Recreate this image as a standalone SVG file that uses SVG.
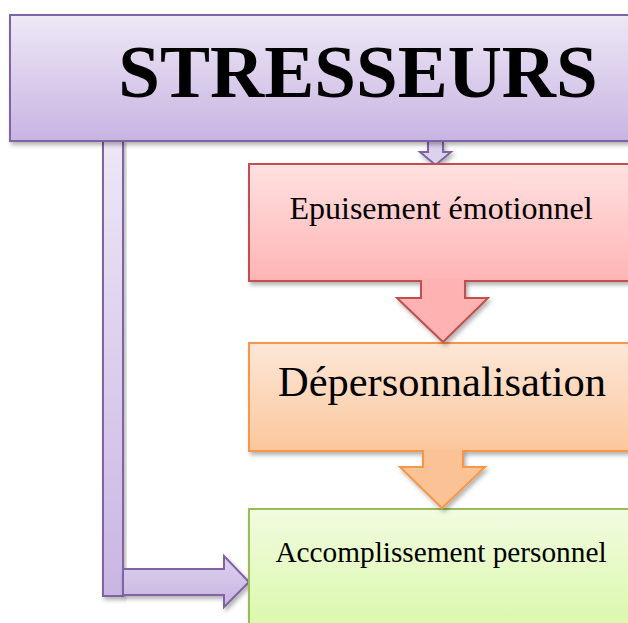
<svg xmlns="http://www.w3.org/2000/svg" width="628" height="623" viewBox="0 0 628 623">
<defs>
<linearGradient id="gPurple" x1="0" y1="0" x2="0" y2="1"><stop offset="0" stop-color="#eee8f6"/><stop offset="1" stop-color="#c8b4e2"/></linearGradient>
<linearGradient id="gPurpleBar" x1="0" y1="0" x2="0" y2="1"><stop offset="0" stop-color="#ede7f6"/><stop offset="1" stop-color="#c9b5e3"/></linearGradient>
<linearGradient id="gRed" x1="0" y1="0" x2="0" y2="1"><stop offset="0" stop-color="#ffe1e1"/><stop offset="1" stop-color="#ffb4b4"/></linearGradient>
<linearGradient id="gOrange" x1="0" y1="0" x2="0" y2="1"><stop offset="0" stop-color="#fde7d8"/><stop offset="1" stop-color="#fbc79c"/></linearGradient>
<linearGradient id="gGreen" x1="0" y1="0" x2="0" y2="1"><stop offset="0" stop-color="#f2fbe0"/><stop offset="1" stop-color="#d8f8a6"/></linearGradient>
<linearGradient id="gArrowP" x1="0" y1="0" x2="0" y2="1"><stop offset="0" stop-color="#ddd2ee"/><stop offset="1" stop-color="#c7b3e1"/></linearGradient>
<filter id="sh" x="-10%" y="-10%" width="130%" height="130%"><feDropShadow dx="2" dy="3" stdDeviation="2" flood-color="#000" flood-opacity="0.3"/></filter>
</defs>
<style>
.txt{font-family:"Liberation Serif","Times New Roman",serif;fill:#000;text-anchor:middle}
.sw{stroke-width:2}
</style>
<g id="connectors">
<rect x="103" y="140" width="20" height="456" fill="url(#gPurpleBar)" stroke="#8064a2" stroke-width="2" filter="url(#sh)"/>
<path d="M123,569 L224,569 L224,556 L249,582 L224,607 L224,595 L123,595 Z" fill="url(#gArrowP)" stroke="#8064a2" stroke-width="2" filter="url(#sh)"/>
<path d="M428,141 L428,152 L420,152 L435.5,165 L451,152 L443,152 L443,141" fill="#dcd1ee" stroke="#8064a2" stroke-width="2" filter="url(#sh)"/>
</g>
<g id="n-stresseurs">
<rect x="10" y="15" width="630" height="126" fill="url(#gPurple)" stroke="#8064a2" stroke-width="2" filter="url(#sh)"/>
<text class="txt" x="358" y="97" font-size="75" font-weight="bold">STRESSEURS</text>
</g>
<g id="n-epuisement">
<rect x="249" y="164" width="400" height="117" fill="url(#gRed)" stroke="#c0504d" stroke-width="2" filter="url(#sh)"/>
<text class="txt" x="441" y="219" font-size="32">Epuisement émotionnel</text>
</g>
<g id="n-depersonnalisation">
<rect x="249" y="343" width="400" height="108" fill="url(#gOrange)" stroke="#f79646" stroke-width="2" filter="url(#sh)"/>
<text class="txt" x="442" y="396" font-size="42.5">Dépersonnalisation</text>
</g>
<g id="n-accomplissement">
<rect x="249" y="509" width="400" height="130" fill="url(#gGreen)" stroke="#9bbb59" stroke-width="2" filter="url(#sh)"/>
<text class="txt" x="441" y="562" font-size="29.3">Accomplissement personnel</text>
</g>
<g id="arrows-between">
<path d="M421,280 L421,298 L397,298 L443,342 L488,298 L465,298 L465,280" fill="#ffb2b2" stroke="#c0504d" stroke-width="2" filter="url(#sh)"/>
<path d="M423,450 L423,467 L400,467 L442,508 L485,467 L463,467 L463,450" fill="#fbc296" stroke="#f79646" stroke-width="2" filter="url(#sh)"/>
</g>
</svg>
